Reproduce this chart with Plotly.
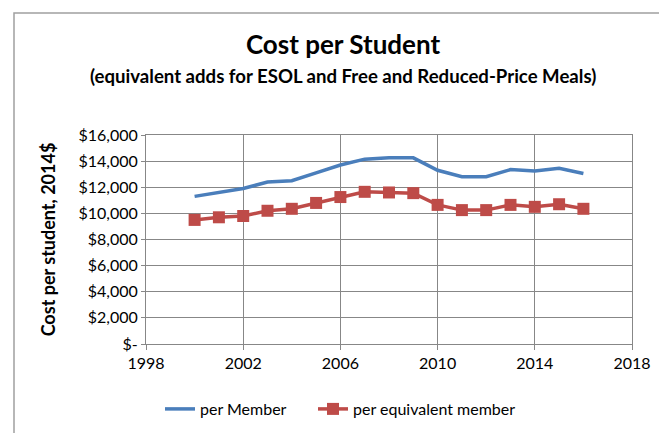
import plotly.graph_objects as go

years = list(range(2000, 2017))
per_member = [11300, 11600, 11900, 12400, 12500, 13100, 13700, 14150, 14250, 14250,
              13300, 12800, 12800, 13350, 13250, 13450, 13050]
per_equiv = [9500, 9700, 9800, 10200, 10350, 10800, 11250, 11650, 11600, 11550,
             10650, 10250, 10250, 10650, 10500, 10700, 10350]
y_ticks = [0, 2000, 4000, 6000, 8000, 10000, 12000, 14000, 16000]
y_ticktext = ["$-", "$2,000", "$4,000", "$6,000", "$8,000", "$10,000", "$12,000", "$14,000", "$16,000"]
x_ticks = [1998, 2002, 2006, 2010, 2014, 2018]

BLUE = "#4A7EBB"
RED = "#BE4B48"
GRID = "#878787"
FONT = "Lato"

OFF = 8  # page body margin
W, H = 667 - OFF, 433 - OFF
# target screen coordinates of the plot area
SX0, SX1, SY0, SY1 = 146, 632, 135, 344
L, T = SX0 - OFF, SY0 - OFF
pw, ph = SX1 - SX0, SY1 - SY0
R, B = W - L - pw, H - T - ph

def px(x):
    return (x - OFF - L) / pw

def py(y):
    return (H - B - (y - OFF)) / ph

fig = go.Figure()
fig.add_trace(go.Scatter(x=years, y=per_member, mode="lines", name="per Member",
                         line=dict(color=BLUE, width=3.5), legend="legend"))
fig.add_trace(go.Scatter(x=years, y=per_equiv, mode="lines+markers", name="per equivalent member",
                         line=dict(color=RED, width=3.5),
                         marker=dict(symbol="square", size=12, color=RED), legend="legend2"))

leg_common = dict(orientation="h", xanchor="left", yanchor="middle",
                  font=dict(family=FONT, size=16), itemwidth=30,
                  bgcolor="rgba(0,0,0,0)")

fig.update_layout(
    width=W, height=H,
    margin=dict(l=L, r=R, t=T, b=B, autoexpand=False),
    paper_bgcolor="white", plot_bgcolor="white",
    font=dict(family=FONT, color="black", size=16),
    title=dict(text="<b>Cost per Student</b>", x=(343 - OFF) / W, xref="container",
               xanchor="center", y=1 - (45 - OFF) / H, yref="container", yanchor="middle",
               font=dict(family=FONT, size=26, color="black")),
    showlegend=True,
    legend=dict(x=px(160), y=py(409), **leg_common),
    legend2=dict(x=px(313), y=py(409), **leg_common),
    xaxis=dict(range=[1998, 2018], tickvals=x_ticks, showgrid=True, gridcolor=GRID, gridwidth=1,
               showline=True, linecolor=GRID, linewidth=1, mirror=True,
               ticks="outside", ticklen=5, tickcolor=GRID, zeroline=False, automargin=False,
               tickfont=dict(family=FONT, size=16)),
    yaxis=dict(range=[0, 16000], tickvals=y_ticks, ticktext=y_ticktext, showgrid=True,
               gridcolor=GRID, gridwidth=1, showline=True, linecolor=GRID, linewidth=1,
               mirror=True, ticks="outside", ticklen=4, tickcolor=GRID, zeroline=False,
               automargin=False,
               tickfont=dict(family=FONT, size=16),
               title=dict(text="<b>Cost per student, 2014$</b>", standoff=18,
                          font=dict(family=FONT, size=18))),
    annotations=[dict(text="<b>(equivalent adds for ESOL and Free and Reduced-Price Meals)</b>",
                      xref="paper", yref="paper", x=px(343), y=py(76), xanchor="center",
                      yanchor="middle", showarrow=False, font=dict(family=FONT, size=18.6))],
    shapes=[dict(type="rect", xref="paper", yref="paper", x0=px(14), x1=px(672),
                 y0=py(445), y1=py(13), line=dict(color="#A0A0A0", width=1.5),
                 layer="below")],
)

fig.write_html("out.html")
